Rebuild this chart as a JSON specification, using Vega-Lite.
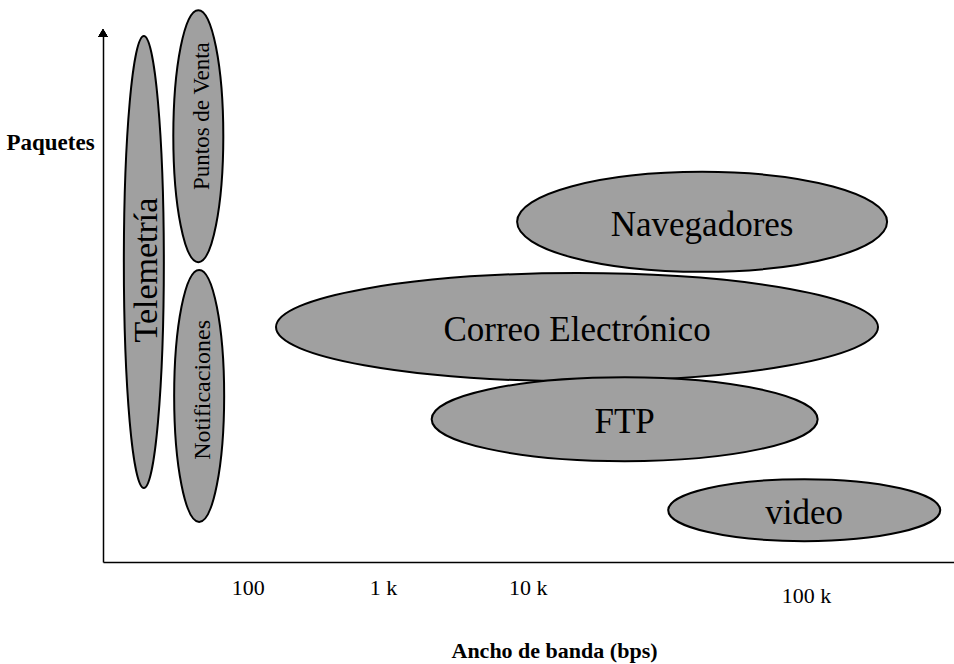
{
  "$schema": "https://vega.github.io/schema/vega-lite/v6.json",
  "autosize": "none",
  "width": 851,
  "height": 529,
  "padding": {"left": 103, "top": 33, "right": 0, "bottom": 102},
  "background": "white",
  "config": {"view": {"stroke": null}, "font": "Liberation Serif"},
  "data": {
    "values": [
      {"name": "Telemetría", "x": 4.8, "y": 56.7},
      {"name": "Puntos de Venta", "x": 11.2, "y": 80.5},
      {"name": "Notificaciones", "x": 11.3, "y": 31.4},
      {"name": "Navegadores", "x": 70.4, "y": 64.3},
      {"name": "Correo Electrónico", "x": 55.7, "y": 44.4},
      {"name": "FTP", "x": 61.3, "y": 27.0},
      {"name": "video", "x": 82.4, "y": 9.8}
    ]
  },
  "encoding": {
    "x": {
      "field": "x", "type": "quantitative",
      "scale": {"domain": [0, 100], "nice": false, "zero": false},
      "axis": {
        "values": [17, 32.9, 49.9, 82.6],
        "labelExpr": "datum.value < 20 ? '100' : datum.value < 40 ? '1 k' : datum.value < 60 ? '10 k' : '100 k'",
        "ticks": false, "tickSize": 0, "grid": false,
        "domainColor": "black", "domainWidth": 1.5,
        "labelFont": "Liberation Serif", "labelFontSize": 22, "labelColor": "black",
        "labelPadding": {"condition": {"test": "datum.value > 80", "value": 23}, "value": 15},
        "labelFlush": false, "labelOverlap": false,
        "title": "Ancho de banda (bps)",
        "titleFont": "Liberation Serif", "titleFontSize": 22, "titleFontWeight": "bold", "titleColor": "black",
        "titleAnchor": "start", "titleAlign": "center", "titleX": 451, "titleY": 95, "titleBaseline": "alphabetic"
      }
    },
    "y": {
      "field": "y", "type": "quantitative",
      "scale": {"domain": [0, 100], "nice": false, "zero": false},
      "axis": {
        "labels": false, "ticks": false, "grid": false,
        "domainColor": "black", "domainWidth": 1.5,
        "title": "Paquetes",
        "titleFont": "Liberation Serif", "titleFontSize": 23, "titleFontWeight": "bold", "titleColor": "black",
        "titleAngle": 0, "titleAlign": "center", "titleBaseline": "middle", "titleX": -53, "titleY": 109
      }
    }
  },
  "layer": [
    {
      "mark": {"type": "point", "filled": true, "fill": "#a0a0a0", "stroke": "black", "strokeWidth": 2, "opacity": 1, "size": 4},
      "encoding": {
        "shape": {
          "field": "name", "type": "nominal", "legend": null,
          "scale": {
            "domain": ["Telemetría", "Puntos de Venta", "Notificaciones", "Navegadores", "Correo Electrónico", "FTP", "video"],
            "range": [
              "M-20,0A20,226 0 1,1 20,0A20,226 0 1,1 -20,0Z",
              "M-25,0A25,126 0 1,1 25,0A25,126 0 1,1 -25,0Z",
              "M-25,0A25,126 0 1,1 25,0A25,126 0 1,1 -25,0Z",
              "M-185,0A185,50 0 1,1 185,0A185,50 0 1,1 -185,0Z",
              "M-301,0A301,54 0 1,1 301,0A301,54 0 1,1 -301,0Z",
              "M-193,0A193,42 0 1,1 193,0A193,42 0 1,1 -193,0Z",
              "M-136,0A136,31 0 1,1 136,0A136,31 0 1,1 -136,0Z"
            ]
          }
        }
      }
    },
    {
      "transform": [{"filter": "datum.name == 'Telemetría'"}],
      "mark": {"type": "text", "angle": 270, "fontSize": 34, "font": "Liberation Serif", "color": "black", "baseline": "middle", "align": "center", "dx": -8, "dy": 3},
      "encoding": {"text": {"field": "name"}}
    },
    {
      "transform": [{"filter": "datum.name == 'Puntos de Venta'"}],
      "mark": {"type": "text", "angle": 270, "fontSize": 23, "font": "Liberation Serif", "color": "black", "baseline": "middle", "align": "center", "dx": 20, "dy": 4},
      "encoding": {"text": {"field": "name"}}
    },
    {
      "transform": [{"filter": "datum.name == 'Notificaciones'"}],
      "mark": {"type": "text", "angle": 270, "fontSize": 24, "font": "Liberation Serif", "color": "black", "baseline": "middle", "align": "center", "dx": 6, "dy": 4},
      "encoding": {"text": {"field": "name"}}
    },
    {
      "transform": [{"filter": "indexof(['Telemetría','Puntos de Venta','Notificaciones'], datum.name) < 0"}],
      "mark": {"type": "text", "fontSize": 35, "font": "Liberation Serif", "color": "black", "baseline": "middle", "align": "center", "dy": 3},
      "encoding": {"text": {"field": "name"}}
    },
    {
      "mark": {"type": "point", "shape": "triangle-up", "filled": true, "fill": "black", "stroke": null, "opacity": 1, "size": 90},
      "encoding": {"x": {"datum": 0}, "y": {"datum": 100}}
    }
  ]
}
